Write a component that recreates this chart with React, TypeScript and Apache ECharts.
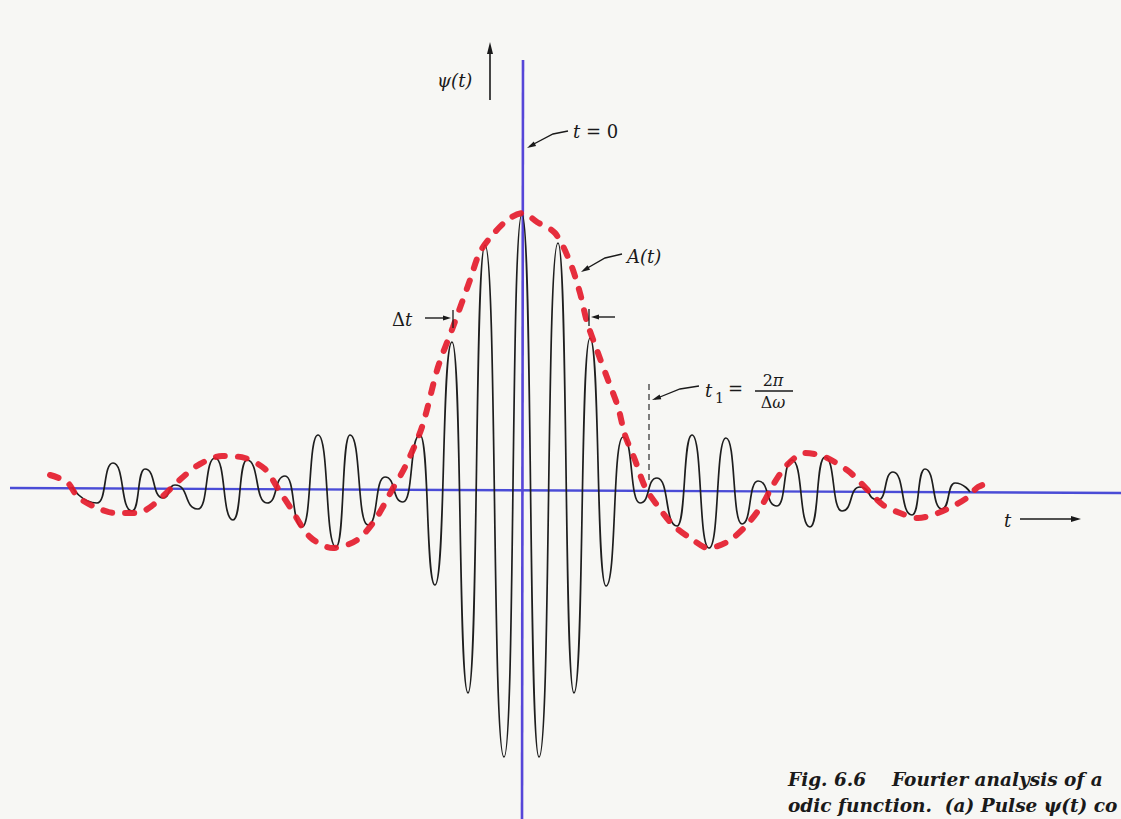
import React, { useEffect, useRef } from "react";
import * as echarts from "echarts";

// wave packet psi(t): extrema (t and psi in plot units)
const T_WAVE = [-450, -425, -409, -390, -377, -359, -347, -324, -307, -289, -275, -255, -237, -220, -204, -186, -172, -154, -137, -119, -102, -87, -70, -54, -37, -18, 0, 17, 36, 52, 68, 84, 101, 118, 135, 155, 170, 187, 204, 220, 236, 255, 270, 288, 303, 320, 338, 356, 371, 390, 403, 420, 433, 448];
const PSI_WAVE = [3, -13, 27, -21, 21, -8, 5, -19, 32, -30, 30, -13, 14, -37, 55, -57, 55, -35, 13, -12, 55, -95, 148, -203, 245, -267, 276, -267, 247, -203, 152, -96, 53, -13, 12, -36, 55, -58, 52, -34, 9, -16, 30, -37, 33, -21, 3, -10, 18, -25, 21, -19, 7, -2];

// envelope A(t) (red dashed)
const T_ENV = [-472, -455, -444, -427, -407, -385, -369, -339, -322, -300, -277, -257, -245, -232, -212, -189, -165, -147, -130, -117, -100, -84, -69, -52, -42, -27, -12, 1, 15, 33, 48, 58, 65, 76, 86, 96, 103, 113, 123, 135, 151, 171, 186, 205, 223, 240, 251, 265, 283, 303, 325, 336, 361, 378, 396, 416, 435, 446, 456, 470];
const A_ENV = [15, 8, -7, -17, -23, -23, -15, 13, 26, 34, 32, 21, 3, -17, -47, -58, -50, -30, 0, 23, 63, 123, 163, 210, 238, 258, 272, 277, 268, 257, 228, 197, 168, 137, 110, 83, 55, 30, 3, -15, -35, -50, -58, -52, -37, -15, 5, 25, 37, 33, 20, 10, -15, -23, -28, -23, -14, -7, 3, 8];

// axes (blue)
const H_AXIS_T = [-512, 599];
const H_AXIS_PSI = [2, -3];
const V_AXIS_T = [1, 0];
const V_AXIS_PSI = [430, -329];

const CAPTION_1 = "Fig. 6.6    Fourier analysis of a";
const CAPTION_2 = "odic function.  (a) Pulse ψ(t) co";

const W = 1121;
const H = 819;
const SERIF = "'DejaVu Serif', 'Liberation Serif', serif";

function zip(a: number[], b: number[]) {
  return a.map((v, i) => [v, b[i]]);
}

function arrowHead(x: number, y: number, dir: "up" | "down" | "left" | "right", len = 10, half = 3) {
  let pts: number[][];
  if (dir === "up") pts = [[x, y], [x - half, y + len], [x + half, y + len]];
  else if (dir === "down") pts = [[x, y], [x - half, y - len], [x + half, y - len]];
  else if (dir === "left") pts = [[x, y], [x + len, y - half], [x + len, y + half]];
  else pts = [[x, y], [x - len, y - half], [x - len, y + half]];
  return { type: "polygon", shape: { points: pts }, style: { fill: "#1a1a1a" }, z: 20 };
}

function leaderHead(x: number, y: number, angleDeg: number) {
  const a = (angleDeg * Math.PI) / 180;
  const len = 9, half = 2.5;
  const bx = x + Math.cos(a) * len, by = y - Math.sin(a) * len;
  const px = -Math.sin(a) * half, py = -Math.cos(a) * half;
  return {
    type: "polygon",
    shape: { points: [[x, y], [bx + px, by + py], [bx - px, by - py]] },
    style: { fill: "#1a1a1a" },
    z: 20,
  };
}

function line(x1: number, y1: number, x2: number, y2: number, w = 1.3, dash?: number[]) {
  return {
    type: "line",
    shape: { x1, y1, x2, y2 },
    style: { stroke: "#1a1a1a", lineWidth: w, lineDash: dash },
    z: 20,
  };
}

function txt(x: number, y: number, text: string, font: string, rich?: any, align = "left") {
  return {
    type: "text",
    x,
    y,
    z: 20,
    style: { text, font, fill: "#1a1a1a", textAlign: align, textVerticalAlign: "middle", rich },
  };
}

export default function App() {
  const ref = useRef<HTMLDivElement>(null);
  useEffect(() => {
    if (!ref.current) return;
    const chart = echarts.init(ref.current, undefined, { renderer: "svg" });
    const italic = `italic 18px ${SERIF}`;
    const upright = `18px ${SERIF}`;
    const option: any = {
      animation: false,
      backgroundColor: "#f7f7f4",
      grid: { left: 0, right: 0, top: 0, bottom: 0 },
      xAxis: { type: "value", min: -522, max: 599, show: false },
      yAxis: { type: "value", min: -329, max: 490, show: false },
      series: [
        {
          type: "line",
          data: zip(H_AXIS_T, H_AXIS_PSI),
          showSymbol: false,
          lineStyle: { color: "#4a4cd6", width: 2.4 },
          z: 1,
          silent: true,
        },
        {
          type: "line",
          data: zip(V_AXIS_T, V_AXIS_PSI),
          showSymbol: false,
          lineStyle: { color: "#5646d8", width: 2.6 },
          z: 1,
          silent: true,
        },
        {
          type: "line",
          data: zip(T_WAVE, PSI_WAVE),
          showSymbol: false,
          smooth: 0.62,
          smoothMonotone: "x",
          lineStyle: { color: "#1e1e1e", width: 1.7 },
          z: 2,
          silent: true,
        },
        {
          type: "line",
          data: zip(T_ENV, A_ENV),
          showSymbol: false,
          smooth: 0.3,
          lineStyle: { color: "#e41c2c", width: 6, type: [9, 13], cap: "round", opacity: 0.92 },
          z: 3,
          silent: true,
        },
      ],
      graphic: [
        // psi(t) label with arrow
        txt(437, 80, "ψ(t)", italic),
        line(490, 100, 490, 50, 1.6),
        arrowHead(490, 42, "up", 12, 3),
        // t = 0
        txt(573, 131, "{i|t} = 0", upright, { i: { font: italic } }),
        { type: "polyline", shape: { points: [[530, 146], [553, 134], [568, 131]] }, style: { stroke: "#1a1a1a", lineWidth: 1.4, fill: null }, z: 20 },
        leaderHead(527, 148, 28),
        // A(t)
        txt(627, 256, "A(t)", italic),
        { type: "polyline", shape: { points: [[584, 270], [605, 258], [622, 254]] }, style: { stroke: "#1a1a1a", lineWidth: 1.4, fill: null }, z: 20 },
        leaderHead(581, 272, 30),
        // Delta t markers
        txt(392, 319, "Δ{i|t}", upright, { i: { font: italic } }),
        line(425, 318, 446, 318, 1.4),
        arrowHead(451, 318, "right", 8, 2.5),
        line(453, 310, 453, 328, 1.3),
        line(615, 317, 596, 317, 1.4),
        arrowHead(591, 317, "left", 8, 2.5),
        line(589, 309, 589, 326, 1.3),
        // t1 = 2pi / delta omega
        txt(705, 390, "{i|t}", upright, { i: { font: italic } }),
        txt(715, 398, "1", `14px ${SERIF}`),
        txt(728, 388, "=", upright),
        txt(773, 380, "2{i|π}", `16px ${SERIF}`, { i: { font: `italic 16px ${SERIF}` } }, "center"),
        line(755, 391, 793, 391, 1.3),
        txt(773, 402, "Δ{i|ω}", `16px ${SERIF}`, { i: { font: `italic 16px ${SERIF}` } }, "center"),
        { type: "polyline", shape: { points: [[655, 399], [680, 389], [699, 386]] }, style: { stroke: "#1a1a1a", lineWidth: 1.3, fill: null }, z: 20 },
        leaderHead(652, 400, 20),
        line(649, 384, 649, 484, 1.1, [6, 4]),
        // t axis label
        txt(1004, 520, "t", italic),
        line(1020, 519, 1074, 519, 1.6),
        arrowHead(1081, 519, "right", 10, 3),
        // caption
        txt(788, 779, CAPTION_1, `italic bold 18.5px ${SERIF}`),
        txt(788, 805, CAPTION_2, `italic bold 18.5px ${SERIF}`),
      ],
    };
    chart.setOption(option);
    return () => chart.dispose();
  }, []);
  return (
    <div
      ref={ref}
      style={{ position: "fixed", left: 0, top: 0, width: W, height: H, overflow: "hidden" }}
    />
  );
}
